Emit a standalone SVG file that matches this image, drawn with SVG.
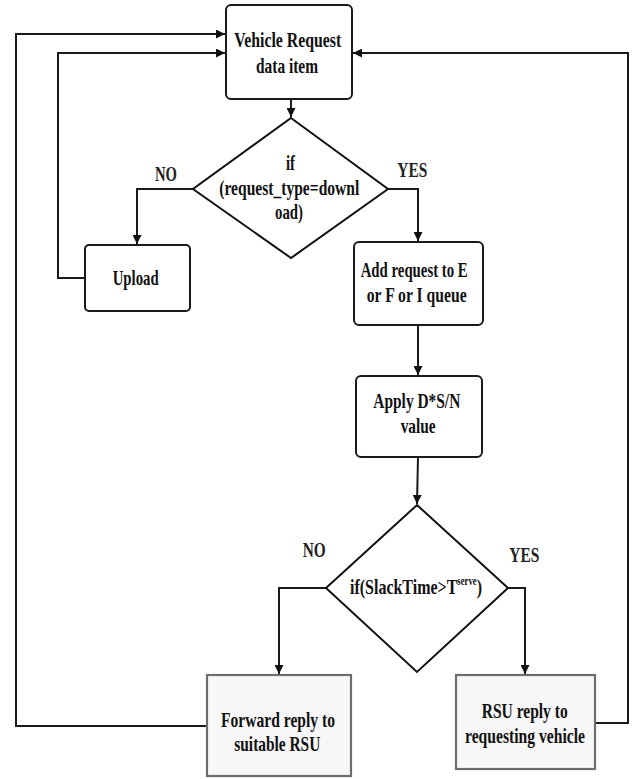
<svg xmlns="http://www.w3.org/2000/svg" width="633" height="779" viewBox="0 0 633 779">
<style>
.box{fill:#fff;stroke:#1a1a1a;stroke-width:2}
.box2{fill:#f7f7f7;stroke:#6e6e6e;stroke-width:2.2}
.dia{fill:#fff;stroke:#111;stroke-width:2}
.t{font-family:"Liberation Serif","Times New Roman",serif;font-weight:bold;font-size:22px;fill:#111}
.lbl{font-family:"Liberation Serif","Times New Roman",serif;font-weight:bold;font-size:21px;fill:#222}
.c{fill:none;stroke:#1a1a1a;stroke-width:2}
</style>
<defs>
<marker id="ah" markerUnits="userSpaceOnUse" markerWidth="9" markerHeight="9" refX="9" refY="4.5" orient="auto">
<path d="M0,0 L9,4.5 L0,9 z" fill="#111"/>
</marker>
</defs>
<rect width="633" height="779" fill="#fff"/>
<g id="connectors">
<path class="c" d="M291,99 L291,117" marker-end="url(#ah)"/>
<path class="c" d="M193,189 L137,189 L137,244" marker-end="url(#ah)"/>
<path class="c" d="M388,189 L418,189 L418,241" marker-end="url(#ah)"/>
<path class="c" d="M85,278 L58,278 L58,53 L225,53" marker-end="url(#ah)"/>
<path class="c" d="M418,325 L418,375" marker-end="url(#ah)"/>
<path class="c" d="M418,457 L417,504" marker-end="url(#ah)"/>
<path class="c" d="M326,588 L279,588 L279,674" marker-end="url(#ah)"/>
<path class="c" d="M508,588 L525,588 L525,674" marker-end="url(#ah)"/>
<path class="c" d="M207,726 L16,726 L16,34 L225,34" marker-end="url(#ah)"/>
<path class="c" d="M595,723 L628,723 L628,53 L353,53" marker-end="url(#ah)"/>
</g>
<g id="node-vehicle-request">
<rect class="box" x="226" y="5" width="126" height="94" rx="5"/>
<text class="t" x="234.3" y="47" textLength="107" lengthAdjust="spacingAndGlyphs">Vehicle Request</text>
<text class="t" x="256" y="73" textLength="62" lengthAdjust="spacingAndGlyphs">data item</text>
</g>
<g id="node-decision-type">
<path class="dia" d="M291,118 L388,189 L291,258 L193,189 Z"/>
<text class="t" x="286" y="170" textLength="9" lengthAdjust="spacingAndGlyphs">if</text>
<text class="t" x="219.3" y="195" textLength="140" lengthAdjust="spacingAndGlyphs">(request_type=downl</text>
<text class="t" x="275" y="219" textLength="28" lengthAdjust="spacingAndGlyphs">oad)</text>
</g>
<g id="labels-1">
<text class="lbl" x="155" y="181" textLength="22" lengthAdjust="spacingAndGlyphs">NO</text>
<text class="lbl" x="397.3" y="177" textLength="30" lengthAdjust="spacingAndGlyphs">YES</text>
</g>
<g id="node-upload">
<rect class="box" x="85" y="245" width="105" height="66" rx="4"/>
<text class="t" x="112.7" y="285" textLength="46" lengthAdjust="spacingAndGlyphs">Upload</text>
</g>
<g id="node-add-request">
<rect class="box" x="354" y="242" width="129" height="83" rx="5"/>
<text class="t" x="360.7" y="277" textLength="107" lengthAdjust="spacingAndGlyphs">Add request to E</text>
<text class="t" x="366.7" y="302" textLength="100" lengthAdjust="spacingAndGlyphs">or F or I queue</text>
</g>
<g id="node-apply">
<rect class="box" x="356" y="376" width="126" height="81" rx="5"/>
<text class="t" x="373.3" y="408" textLength="87" lengthAdjust="spacingAndGlyphs">Apply D*S/N</text>
<text class="t" x="400.7" y="433" textLength="35" lengthAdjust="spacingAndGlyphs">value</text>
</g>
<g id="node-decision-slack">
<path class="dia" d="M417,505 L508,588 L417,672 L326,588 Z"/>
<text class="t" x="350" y="594" textLength="132" lengthAdjust="spacingAndGlyphs">if(SlackTime&gt;T<tspan font-size="12" dy="-9">serve</tspan><tspan dy="9">)</tspan></text>
</g>
<g id="labels-2">
<text class="lbl" x="302.7" y="557" textLength="23" lengthAdjust="spacingAndGlyphs">NO</text>
<text class="lbl" x="509.3" y="562" textLength="30" lengthAdjust="spacingAndGlyphs">YES</text>
</g>
<g id="node-forward">
<rect class="box2" x="207" y="675" width="144" height="101"/>
<text class="t" x="221" y="727" textLength="114" lengthAdjust="spacingAndGlyphs">Forward reply to</text>
<text class="t" x="234.3" y="751" textLength="86" lengthAdjust="spacingAndGlyphs">suitable RSU</text>
</g>
<g id="node-rsu-reply">
<rect class="box2" x="456" y="675" width="139" height="94"/>
<text class="t" x="481.7" y="718" textLength="86" lengthAdjust="spacingAndGlyphs">RSU reply to</text>
<text class="t" x="465" y="743" textLength="120" lengthAdjust="spacingAndGlyphs">requesting vehicle</text>
</g>
</svg>
